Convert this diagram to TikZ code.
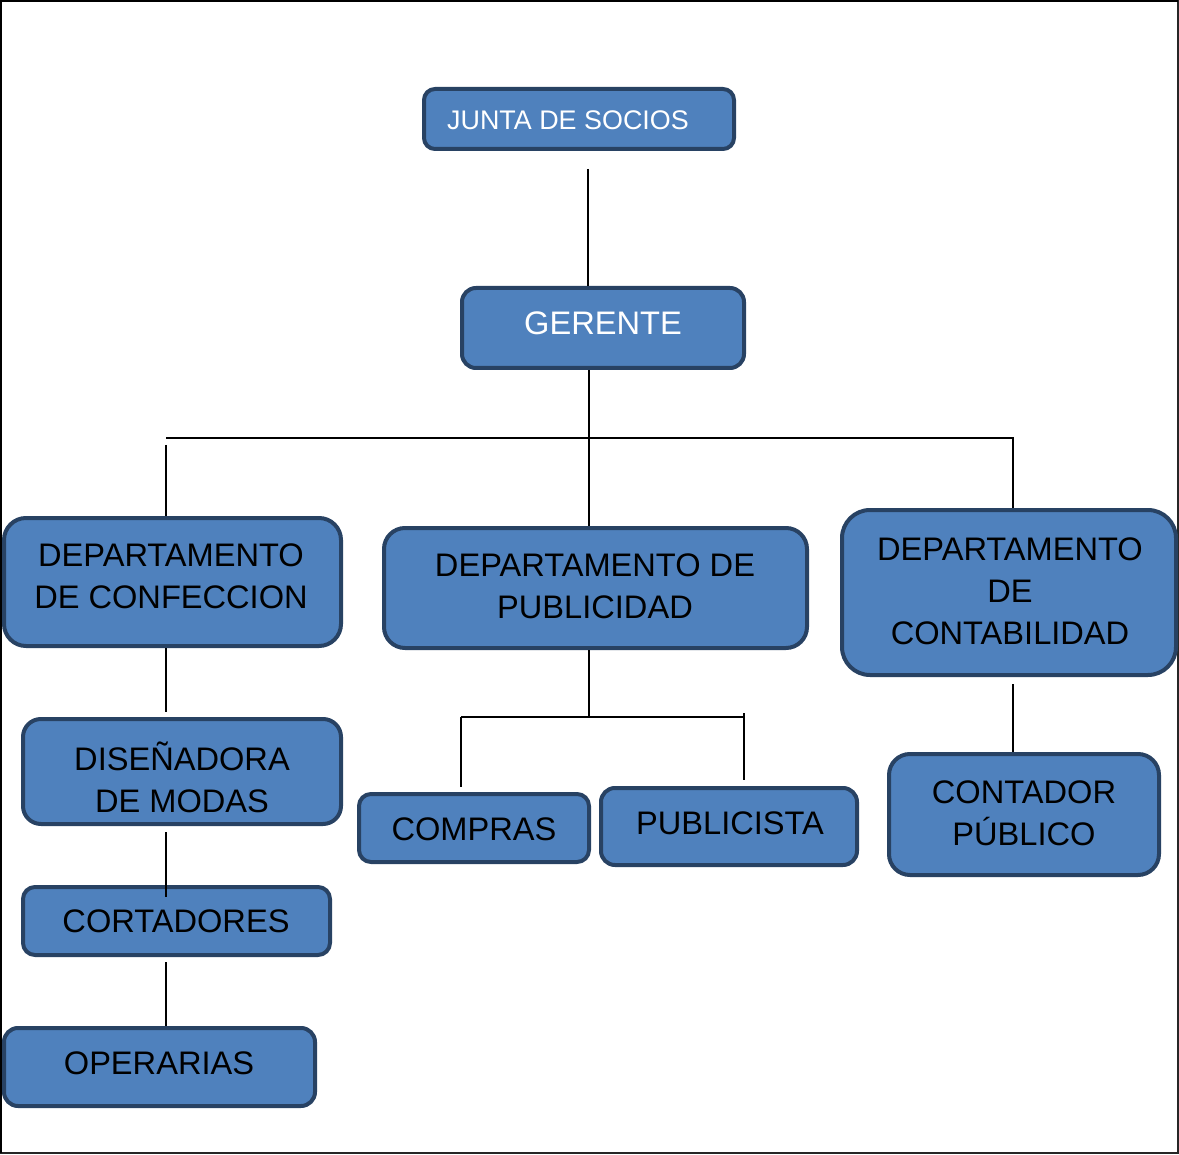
\documentclass[tikz,border=0pt]{standalone}
\usepackage{fontspec}
\setmainfont{Liberation Sans}
\definecolor{boxfill}{HTML}{4F81BD}
\definecolor{boxline}{HTML}{284263}
\tikzset{
  orgbox/.style={draw=boxline, fill=boxfill, line width=2pt, inner sep=0pt},
  orgtext/.style={align=center, inner sep=0pt, font=\fontsize{16.3}{21}\selectfont},
  toptext/.style={orgtext, text=white},
  link/.style={draw=black, line width=1pt},
}
\begin{document}
\begin{tikzpicture}[x=0.5pt, y=-0.5pt]
\useasboundingbox (0,0) rectangle (1179,1155);
% outer frame
\draw[black!85, line width=1pt] (1,1) rectangle (1178,1153);
\draw[black, line width=1.2pt] (1,1153) -- (1,1) -- (1178,1);

% boxes
\node[orgbox, minimum width=155pt, minimum height=30pt, rounded corners=5.5pt] (junta) at (579,119) {};
\node[orgbox, minimum width=141pt, minimum height=40pt, rounded corners=7pt] (gerente) at (603,328) {};
\node[orgbox, minimum width=168.5pt, minimum height=64pt, rounded corners=11pt] (conf) at (172.5,582) {};
\node[orgbox, minimum width=211.5pt, minimum height=60pt, rounded corners=10.5pt] (pub) at (595.5,588) {};
\node[orgbox, minimum width=167pt, minimum height=82.5pt, rounded corners=14pt] (cont) at (1009,592.5) {};
\node[orgbox, minimum width=159pt, minimum height=52.5pt, rounded corners=9pt] (dis) at (182,771.5) {};
\node[orgbox, minimum width=153.5pt, minimum height=34pt, rounded corners=6pt] (cort) at (176.5,921) {};
\node[orgbox, minimum width=155.5pt, minimum height=39pt, rounded corners=7pt] (oper) at (159.5,1067) {};
\node[orgbox, minimum width=115pt, minimum height=34pt, rounded corners=6pt] (comp) at (474,828) {};
\node[orgbox, minimum width=128pt, minimum height=38.5pt, rounded corners=7pt] (publ) at (729,826.5) {};
\node[orgbox, minimum width=135pt, minimum height=60.5pt, rounded corners=10.5pt] (contador) at (1024,814.5) {};

% labels
\node[toptext, font=\fontsize{13.45}{16}\selectfont] (junta-t) at (568,120) {JUNTA DE SOCIOS};
\node[toptext] (gerente-t) at (603,323) {GERENTE};
\node[orgtext] (conf-t) at (171,576) {DEPARTAMENTO\\DE CONFECCION};
\node[orgtext] (pub-t) at (595,586) {DEPARTAMENTO DE\\PUBLICIDAD};
\node[orgtext] (cont-t) at (1010,591) {DEPARTAMENTO\\DE\\CONTABILIDAD};
\node[orgtext] (dis-t) at (182,777) {DISEÑADORA\\DE MODAS};
\node[orgtext] (cort-t) at (176,921) {CORTADORES};
\node[orgtext] (oper-t) at (159,1063) {OPERARIAS};
\node[orgtext] (comp-t) at (474,829) {COMPRAS};
\node[orgtext] (publ-t) at (730,823) {PUBLICISTA};
\node[orgtext] (contador-t) at (1024,813) {CONTADOR\\PÚBLICO};

% junction points
\coordinate (jtop) at (588,169);
\coordinate (busC) at (589,438);
\coordinate (busL) at (166,438);
\coordinate (busR) at (1013,438);
\coordinate (confTop) at (166,445);
\coordinate (disTop) at (166,712);
\coordinate (disBot) at (166,832);
\coordinate (cortIn) at (166,897);
\coordinate (cortBot) at (166,962);
\coordinate (pubBus) at (589,718);
\coordinate (pbL) at (461,717);
\coordinate (pbR) at (744,717);
\coordinate (compEnd) at (461,787);
\coordinate (publTop) at (744,713);
\coordinate (publEnd) at (744,780);
\coordinate (contBot) at (1013,684);

% connectors
\draw[link] (jtop) -- (jtop |- gerente.north);
\draw[link] (gerente.south -| busC) -- (busC) -- (pub.north -| busC);
\draw[link] (busL) -- (busR) -- (cont.north -| busR);
\draw[link] (confTop) -- (confTop |- conf.north);
\draw[link] (conf.south -| disTop) -- (disTop);
\draw[link] (disBot) -- (cortIn);
\draw[link] (cortBot) -- (cortBot |- oper.north);
\draw[link] (pub.south -| pubBus) -- (pubBus);
\draw[link] (pbL) -- (pbR);
\draw[link] (pbL) -- (compEnd);
\draw[link] (publTop) -- (publEnd);
\draw[link] (contBot) -- (contBot |- contador.north);
\end{tikzpicture}
\end{document}
